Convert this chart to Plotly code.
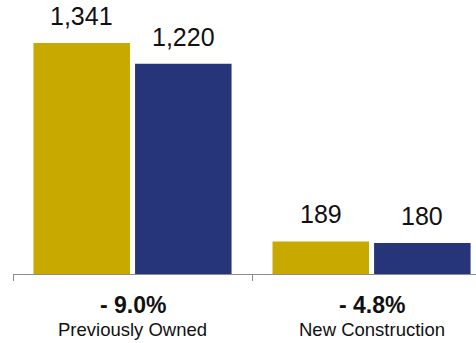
import plotly.graph_objects as go

# Sales by home type, prior year vs current year
categories = ["Previously Owned", "New Construction"]
prior_year = [1341, 189]
current_year = [1220, 180]
pct_change = ["- 9.0%", "- 4.8%"]

GOLD = "#C7A900"
NAVY = "#26347A"
BAR_GAP = 0.15
FONT = "Liberation Sans, Arial, Helvetica, sans-serif"

fig = go.Figure()
fig.add_trace(go.Bar(x=categories, y=prior_year, marker_color=GOLD,
                     marker_line_width=0, name="Prior"))
fig.add_trace(go.Bar(x=categories, y=current_year, marker_color=NAVY,
                     marker_line_width=0, name="Current"))

annotations = []
# value labels above each bar (bar centres follow from the group layout)
half = (1 - BAR_GAP) / 4
for i in range(len(categories)):
    for off, vals in ((-half, prior_year), (half, current_year)):
        annotations.append(dict(
            x=i + off, y=vals[i], xref="x", yref="y",
            text=f"{vals[i]:,}", showarrow=False,
            yanchor="bottom", yshift=11,
            font=dict(family=FONT, size=25, color="#111111")))
    # category captions below the axis
    annotations.append(dict(
        x=i, y=0, xref="x", yref="paper", text=f"<b>{pct_change[i]}</b>",
        showarrow=False, yanchor="middle", yshift=-31,
        font=dict(family=FONT, size=23, color="#111111")))
    annotations.append(dict(
        x=i, y=0, xref="x", yref="paper", text=categories[i],
        showarrow=False, yanchor="middle", yshift=-55,
        font=dict(family=FONT, size=18.5, color="#111111")))

fig.update_layout(
    width=476, height=343,
    margin=dict(l=13, r=0, t=0, b=69),
    barmode="group", bargap=BAR_GAP, bargroupgap=0.05,
    plot_bgcolor="white", paper_bgcolor="white",
    showlegend=False,
    annotations=annotations,
    xaxis=dict(range=[-0.5, 1.437], showline=True, linecolor="#8c8c8c",
               linewidth=1, ticks="outside", tickson="boundaries",
               ticklen=6, tickcolor="#8c8c8c", showticklabels=False,
               showgrid=False, zeroline=False),
    yaxis=dict(range=[0, 1590], visible=False, showgrid=False),
)

fig.write_html("out.html")
